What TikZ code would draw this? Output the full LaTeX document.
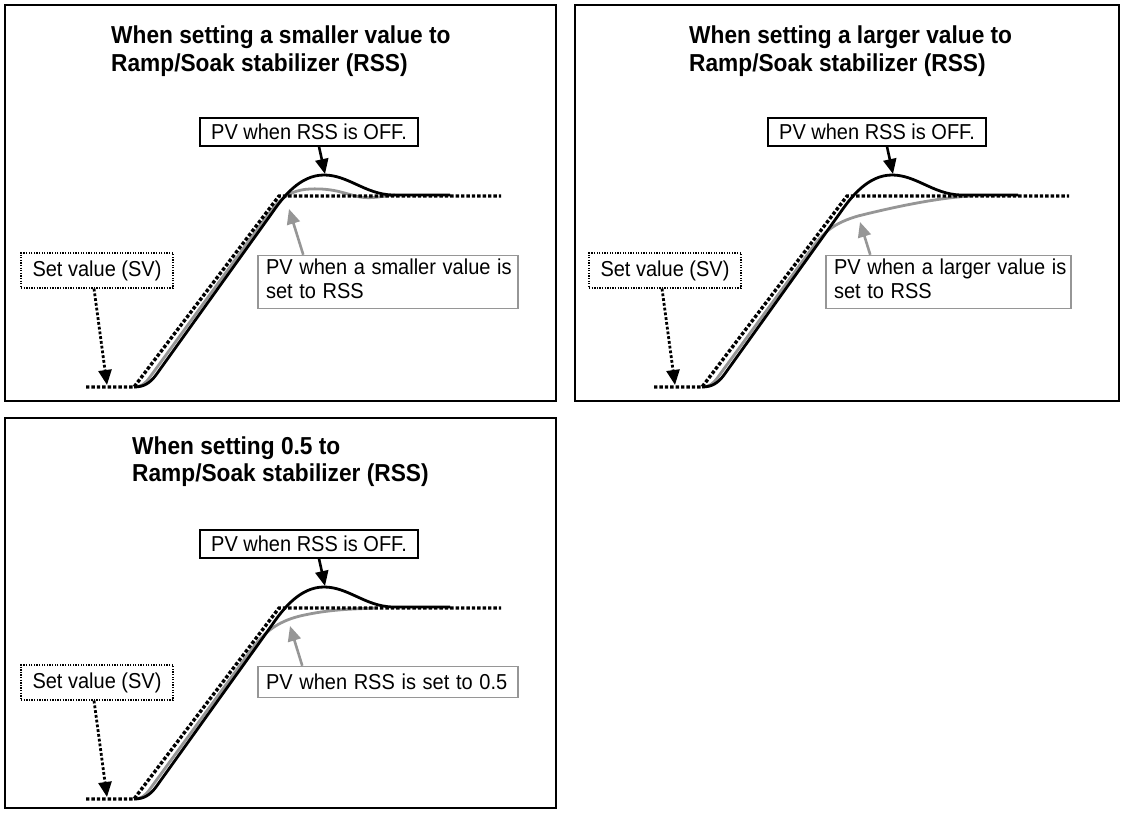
\documentclass[tikz,border=0pt]{standalone}
\usepackage{fontspec}
\usepackage{graphicx}
\setmainfont{Liberation Sans}
\usetikzlibrary{arrows.meta}

\definecolor{pvgray}{RGB}{150,150,150}

% slightly tall lettering
\newcommand\tall[1]{\scalebox{1}[1.08]{#1}}
\newcommand\twolines[2]{\tall{\begin{tabular}{@{}l@{}}#1\\#2\end{tabular}}}

\tikzset{
  panel/.style={draw=black, line width=1.6pt},
  svline/.style={line width=3.4pt, dash pattern=on 3.4pt off 2pt},
  pvoff/.style={line width=2.8pt, line join=round},
  pvrss/.style={draw=pvgray, line width=2.8pt, line join=round},
  title/.style={font=\bfseries\fontsize{22.7}{27}\selectfont, anchor=base west, inner sep=0pt},
  offbox/.style={draw, fill=white, line width=1.3pt, minimum width=218pt, minimum height=28pt,
    inner sep=0pt, font=\fontsize{20}{23}\selectfont},
  svbox/.style={draw, line width=1.3pt, dash pattern=on 1.3pt off 1.3pt, minimum width=152pt,
    minimum height=35pt, inner sep=0pt, font=\fontsize{20}{23}\selectfont},
  rssbox/.style={draw=pvgray, fill=white, line width=1.5pt, inner xsep=8pt, inner ysep=0pt,
    align=left, font=\fontsize{20}{22.2}\selectfont},
  blackarrow/.style={line width=2.6pt, -{Triangle[length=15pt,width=13pt]}},
  grayarrow/.style={draw=pvgray, line width=2.6pt, -{Triangle[length=15pt,width=13pt]}},
  svarrow/.style={line width=2.8pt, dash pattern=on 2.8pt off 2pt, -{Triangle[length=15pt,width=13pt]}},
}

% Common parts of one chart: set value, PV without RSS and their labels.
% #1 = tag for node names, #2/#3 = offset of the chart
\newcommand\basechart[3]{%
  \begin{scope}[shift={(#2,#3)}]
    \draw[pvoff] (134,387) .. controls (144,387) and (150,383) .. (156,375)
      -- (272,213) .. controls (283,197) and (300,175) .. (324,175)
      .. controls (348,175) and (365,194) .. (392,195) -- (450,195);
    \draw[svline] (86,387) -- (134,387) -- (279,196) -- (501,196);
    \node[offbox] (off#1) at (309,132) {\tall{PV when RSS is OFF.}};
    \coordinate (peak#1) at (325,174);
    \draw[blackarrow] ([xshift=10pt]off#1.south) -- (peak#1);
    \node[svbox] (sv#1) at (97,270.5) {\tall{Set value (SV)}};
    \coordinate (svtip#1) at (107,385);
    \draw[svarrow] ([xshift=-3pt]sv#1.south) -- (svtip#1);
  \end{scope}}

\begin{document}
\begin{tikzpicture}[x=1pt, y=-1pt]
  \useasboundingbox (0,0) rectangle (1124,813);
  \fill[white] (0,0) rectangle (1124,813);

  % frames
  \draw[panel] (5,5) rectangle (556,401);
  \draw[panel] (575,5) rectangle (1119,401);
  \draw[panel] (5,418) rectangle (556,808);

  % titles
  \node[title] (t1a) at (111,44) {\tall{When setting a smaller value to}};
  \node[title] (t1b) at (111,72) {\tall{Ramp/Soak stabilizer (RSS)}};
  \node[title] (t2a) at (689,44) {\tall{When setting a larger value to}};
  \node[title] (t2b) at (689,72) {\tall{Ramp/Soak stabilizer (RSS)}};
  \node[title] (t3a) at (132,454) {\tall{When setting 0.5 to}};
  \node[title] (t3b) at (132,481) {\tall{Ramp/Soak stabilizer (RSS)}};

  % PV with RSS (grey curves)
  \draw[pvrss] (134,387) .. controls (141,387) and (145,384) .. (150,377)
    -- (262,223) .. controls (275,205) and (285,190) .. (310,189)
    .. controls (335,188) and (345,194) .. (360,197)
    .. controls (372,199) and (382,196) .. (395,195);
  \begin{scope}[shift={(568,0)}]
    \draw[pvrss] (134,387) .. controls (141,387) and (145,384) .. (150,377)
      -- (245,247) .. controls (256,232) and (266,223) .. (290,216)
      .. controls (330,206) and (370,198) .. (402,196);
  \end{scope}
  \begin{scope}[shift={(0,412)}]
    \draw[pvrss] (134,387) .. controls (141,387) and (145,384) .. (150,377)
      -- (252,237) .. controls (264,221) and (276,210) .. (300,204)
      .. controls (330,197) and (355,197) .. (377,196);
  \end{scope}

  \basechart{1}{0}{0}
  \basechart{2}{568}{0}
  \basechart{3}{0}{412}

  % labels of the RSS curves
  \node[rssbox, text width=244pt, minimum height=53pt] (rss1) at (388,282)
    {\twolines{PV when a smaller value is}{set to RSS}};
  \coordinate (rsstip1) at (289,209);
  \draw[grayarrow] ([xshift=46pt]rss1.north west) -- (rsstip1);

  \node[rssbox, text width=229pt, minimum height=53pt] (rss2) at (948.5,282)
    {\twolines{PV when a larger value is}{set to RSS}};
  \coordinate (rsstip2) at (860,222);
  \draw[grayarrow] ([xshift=45pt]rss2.north west) -- (rsstip2);

  \node[rssbox, text width=244pt, minimum height=31pt] (rss3) at (388,682)
    {\tall{PV when RSS is set to 0.5}};
  \coordinate (rsstip3) at (290,626);
  \draw[grayarrow] ([xshift=45pt]rss3.north west) -- (rsstip3);
\end{tikzpicture}
\end{document}
